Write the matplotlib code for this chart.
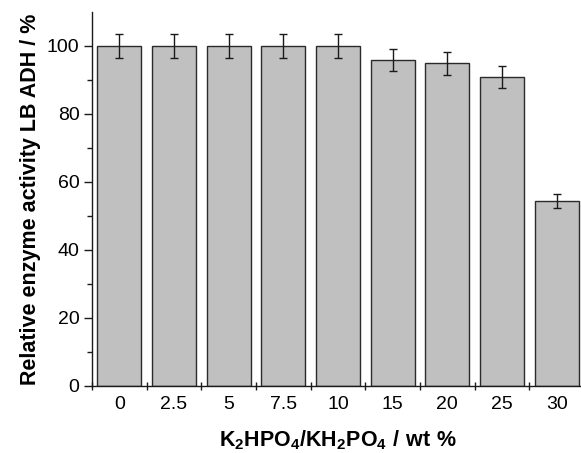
import matplotlib
matplotlib.use("Agg")
import matplotlib.pyplot as plt
import numpy as np
from matplotlib.ticker import FixedLocator

# Phosphate buffer concentration and residual LB ADH activity
categories = ["0", "2.5", "5", "7.5", "10", "15", "20", "25", "30"]
activity = [100, 100, 100, 100, 100, 95.9, 94.9, 90.9, 54.5]
errors = [3.5, 3.5, 3.5, 3.5, 3.5, 3.3, 3.3, 3.2, 2.0]

plt.rcParams["font.family"] = ["Liberation Sans", "DejaVu Sans"]
plt.rcParams["mathtext.fontset"] = "custom"
plt.rcParams["mathtext.rm"] = "Liberation Sans"
plt.rcParams["mathtext.bf"] = "Liberation Sans:bold"

fig = plt.figure(figsize=(5.81, 4.53), dpi=100)
ax = fig.add_axes([92 / 581, 1 - 386 / 453, 492 / 581, 374 / 453])

x = np.arange(len(categories))
ax.bar(x, activity, width=0.8, color="#c0c0c0", edgecolor="#2a2a2a", linewidth=1.0)
ax.errorbar(x, activity, yerr=errors, fmt="none", ecolor="#1a1a1a",
            elinewidth=1.0, capsize=3.0, capthick=1.0)

ax.set_xlim(-0.5, len(categories) - 0.5)
ax.set_ylim(0, 110)

for s in ("top", "right"):
    ax.spines[s].set_visible(False)
for s in ("left", "bottom"):
    ax.spines[s].set_linewidth(1.0)
    ax.spines[s].set_color("#1a1a1a")

ax.set_xticks(x)
ax.set_xticklabels(categories)
ax.xaxis.set_minor_locator(FixedLocator(np.arange(-0.5, len(categories), 1.0)))
ax.tick_params(axis="x", which="major", length=0, pad=7, labelsize=14)
ax.tick_params(axis="x", which="minor", direction="inout", length=6, width=1.0, color="#1a1a1a")

ax.yaxis.set_major_locator(FixedLocator([0, 20, 40, 60, 80, 100]))
ax.yaxis.set_minor_locator(FixedLocator([10, 30, 50, 70, 90]))
ax.tick_params(axis="y", which="major", direction="out", length=6, width=1.0, labelsize=14, pad=3, color="#1a1a1a")
ax.tick_params(axis="y", which="minor", direction="out", length=3.4, width=1.0, color="#1a1a1a")

ax.set_ylabel("Relative enzyme activity LB ADH / %", fontsize=15.5, fontweight="bold", labelpad=4)
ax.set_xlabel(r"$\mathbf{K_2HPO_4/KH_2PO_4\ /\ wt\ \%}$", fontsize=15.5, labelpad=11)

fig.savefig("out.png", dpi=100)
